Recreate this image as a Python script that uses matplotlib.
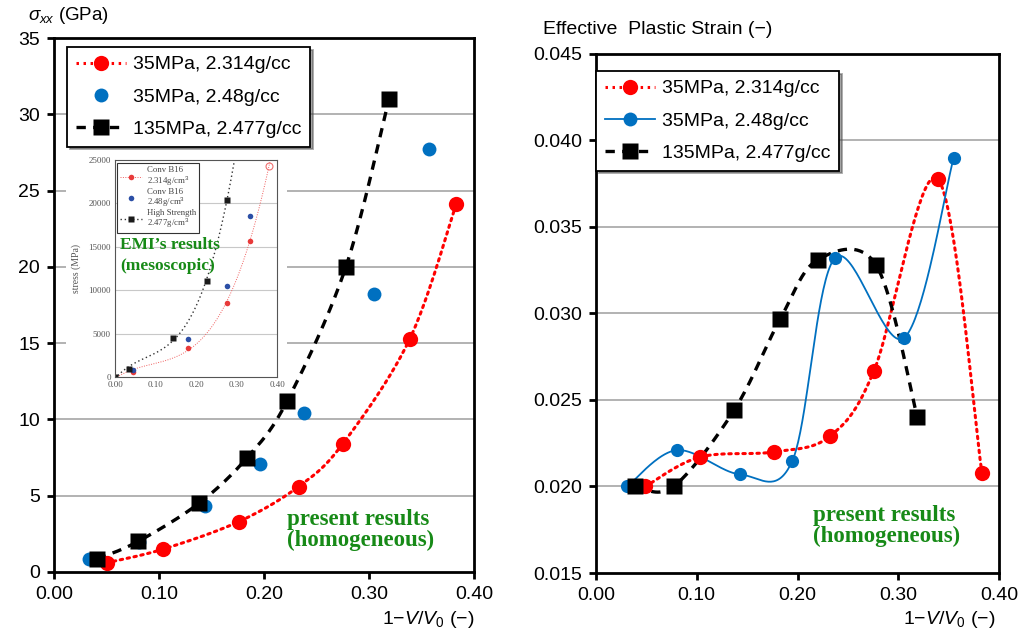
import numpy as np
import matplotlib.pyplot as plt
from matplotlib.lines import Line2D
from matplotlib.patches import Rectangle

plt.rcParams['font.family'] = ['Liberation Sans', 'DejaVu Sans']
plt.rcParams['mathtext.fontset'] = 'custom'
plt.rcParams['mathtext.rm'] = 'Liberation Sans'
plt.rcParams['mathtext.it'] = 'Liberation Sans:italic'

# stress vs volumetric strain (GPa)
x_a = [0.050, 0.104, 0.176, 0.233, 0.275, 0.339, 0.383]
s_a = [0.6, 1.5, 3.3, 5.6, 8.4, 15.3, 24.1]
x_b = [0.033, 0.081, 0.144, 0.196, 0.238, 0.305, 0.357]
s_b = [0.85, 1.96, 4.3, 7.1, 10.4, 18.2, 27.7]
x_c = [0.041, 0.080, 0.138, 0.184, 0.222, 0.278, 0.319]
s_c = [0.85, 2.0, 4.5, 7.5, 11.2, 20.0, 31.0]

# effective plastic strain
ex_a = [0.049, 0.103, 0.177, 0.232, 0.276, 0.339, 0.383]
ep_a = [0.0200, 0.0217, 0.0220, 0.0229, 0.0267, 0.0378, 0.0208]
ex_b = [0.031, 0.080, 0.143, 0.195, 0.237, 0.306, 0.355]
ep_b = [0.0200, 0.0221, 0.0207, 0.0215, 0.0332, 0.0286, 0.0390]
ex_c = [0.039, 0.077, 0.137, 0.183, 0.220, 0.278, 0.319]
ep_c = [0.0200, 0.0200, 0.0244, 0.0297, 0.0331, 0.0328, 0.0240]

# EMI mesoscopic results (MPa)
mx_a = [0.0, 0.044, 0.180, 0.276, 0.333]
ms_a = [0, 570, 3340, 8520, 15650]
mx_a_open = [0.380]
ms_a_open = [24300]
mx_b = [0.044, 0.180, 0.276, 0.333]
ms_b = [800, 4380, 10500, 18550]
mx_c = [0.0, 0.035, 0.143, 0.227, 0.276]
ms_c = [0, 900, 4500, 11050, 20400]

labels = ['35MPa, 2.314g/cc', '35MPa, 2.48g/cc', '135MPa, 2.477g/cc']
emi_labels = ['Conv B16\n2.314g/cm$^3$', 'Conv B16\n2.48g/cm$^3$',
              'High Strength\n2.477g/cm$^3$']

RED = '#ff0000'
BLUE = '#0070c0'
GREEN = '#178a17'
GRID = '#a6a6a6'
FW, FH = 1025, 632


def smooth(ax, xs, ys, n=40):
    # Bezier smoothing done in screen space so the curve shape follows the plot
    pos = ax.get_position()
    w, h = pos.width * FW, pos.height * FH
    x0, x1 = ax.get_xlim()
    y0, y1 = ax.get_ylim()
    p = np.column_stack([(np.asarray(xs) - x0) / (x1 - x0) * w,
                         (np.asarray(ys) - y0) / (y1 - y0) * h])
    p = np.vstack([p[0], p, p[-1]])
    t = np.linspace(0, 1, n)[:, None]
    out = []
    for i in range(1, len(p) - 2):
        a, d = p[i], p[i + 1]
        b = a + (p[i + 1] - p[i - 1]) / 6
        c = d - (p[i + 2] - p[i]) / 6
        seg = (1 - t) ** 3 * a + 3 * (1 - t) ** 2 * t * b + 3 * (1 - t) * t ** 2 * c + t ** 3 * d
        out.append(seg)
    out = np.vstack(out)
    return out[:, 0] / w * (x1 - x0) + x0, out[:, 1] / h * (y1 - y0) + y0


def style_axes(ax, ylim, yticks, yfmt):
    ax.set_xlim(0, 0.4)
    ax.set_ylim(*ylim)
    ax.set_xticks(np.arange(0, 0.41, 0.1))
    ax.set_xticklabels(['%.2f' % v for v in np.arange(0, 0.41, 0.1)])
    ax.set_yticks(yticks)
    ax.set_yticklabels([yfmt % v for v in yticks])
    for sp in ax.spines.values():
        sp.set_linewidth(2.0)
    ax.tick_params(direction='out', length=5, width=2, labelsize=14, pad=5)


dotted = (0, (0.8, 1.5))
dashed = (0, (2.8, 2.2))
leg_kw = dict(borderaxespad=0, fontsize=14, handlelength=2.6, handletextpad=0.35,
              labelspacing=0.75, fancybox=False, shadow=True, framealpha=1,
              edgecolor='black', borderpad=0.45)

fig = plt.figure(figsize=(FW / 100, FH / 100), dpi=100)

# ---------- left: stress ----------
pos_l = [54 / FW, 1 - 572 / FH, 420 / FW, 534 / FH]
yt_l = np.arange(0, 36, 5)

bg = fig.add_axes(pos_l, zorder=0)
bg.set_xlim(0, 0.4)
bg.set_ylim(0, 35)
for v in yt_l[1:-1]:
    bg.axhline(v, color=GRID, lw=1.2)
bg.axis('off')

axl = fig.add_axes(pos_l, zorder=2)
axl.patch.set_alpha(0)
style_axes(axl, (0, 35), yt_l, '%d')

sx, sy = smooth(axl, x_a, s_a)
axl.plot(sx, sy, color=RED, lw=2.2, ls=dotted, dash_capstyle='round')
sx, sy = smooth(axl, x_c, s_c)
axl.plot(sx, sy, color='black', lw=2.4, ls=dashed)
axl.plot(x_a, s_a, 'o', color=RED, ms=11, mec='none', zorder=4)
axl.plot(x_b, s_b, 'o', color=BLUE, ms=10, mec='none', zorder=4)
axl.plot(x_c, s_c, 's', color='black', ms=11, mec='none', zorder=4)

hl = [Line2D([], [], color=RED, lw=2.2, ls=dotted, marker='o', ms=11, mec='none'),
      Line2D([], [], color=BLUE, lw=0, marker='o', ms=10, mec='none'),
      Line2D([], [], color='black', lw=2.4, ls=dashed, marker='s', ms=11, mec='none')]
leg = axl.legend(hl, labels, loc='upper left', bbox_to_anchor=(0.031, 0.983), **leg_kw)
leg.get_frame().set_linewidth(1.3)

axl.text(0.555, 0.079, 'present results\n(homogeneous)', transform=axl.transAxes,
         family='Liberation Serif', weight='bold', fontsize=16.5, color=GREEN,
         ha='left', va='center', linespacing=1.0)

# inset with the mesoscopic results
fig.add_artist(Rectangle((66 / FW, 1 - 400 / FH), 221 / FW, 247 / FH,
                         transform=fig.transFigure, facecolor='white',
                         edgecolor='none', zorder=1))
ins = fig.add_axes([115 / FW, 1 - 377 / FH, 162 / FW, 217 / FH], zorder=1.5)
ins.set_xlim(0, 0.4)
ins.set_ylim(0, 25000)
ins.set_xticks(np.arange(0, 0.41, 0.1))
ins.set_xticklabels(['%.2f' % v for v in np.arange(0, 0.41, 0.1)])
ins.set_yticks(np.arange(0, 25001, 5000))
for v in range(5000, 25000, 5000):
    ins.axhline(v, color='#c8c8c8', lw=0.8, zorder=0)
for sp in ins.spines.values():
    sp.set_linewidth(0.8)
    sp.set_color('#555555')
ins.tick_params(length=0, labelsize=6.5, labelcolor='#555555', pad=3)
for lab in ins.get_xticklabels() + ins.get_yticklabels():
    lab.set_family('Liberation Serif')
ins.set_ylabel('stress (MPa)', family='Liberation Serif', fontsize=7,
               color='#555555', labelpad=5)

# trend lines through the EMI points
fx = np.linspace(0, 0.4, 200)
ca = np.polyfit(mx_a + mx_a_open, ms_a + ms_a_open, 3)
cc = np.polyfit(mx_c, ms_c, 3)
ins.plot(fx, np.polyval(ca, fx), color='#f06060', lw=0.7, ls=(0, (1, 1.5)))
ins.plot(fx, np.polyval(cc, fx), color='#333333', lw=1.0, ls=(0, (1, 2)))
ins.plot(mx_a, ms_a, 'o', color='#e83a3a', ms=4, mec='none')
ins.plot(mx_a_open, ms_a_open, 'o', mfc='none', mec='#f07070', ms=5, mew=0.8)
ins.plot(mx_b, ms_b, 'o', color='#2c4fa6', ms=4, mec='none')
ins.plot(mx_c, ms_c, 's', color='#1a1a1a', ms=4, mec='none')

hi = [Line2D([], [], color='#f06060', lw=0.7, ls=(0, (1, 1.5)), marker='o', ms=4, mec='none', mfc='#e83a3a'),
      Line2D([], [], color='#2c4fa6', lw=0, marker='o', ms=4, mec='none'),
      Line2D([], [], color='#333333', lw=1.0, ls=(0, (1, 2)), marker='s', ms=4, mec='none', mfc='#1a1a1a')]
li = ins.legend(hi, emi_labels, loc='upper left', bbox_to_anchor=(0.01, 0.985),
                borderaxespad=0, prop={'family': 'Liberation Serif', 'size': 6.3},
                fancybox=False, framealpha=1, edgecolor='#333333',
                handlelength=2.6, handletextpad=0.5, labelspacing=0.0, borderpad=0.35)
li.get_frame().set_linewidth(0.8)
for t in li.get_texts():
    t.set_color('#444444')
    t.set_linespacing(0.95)

ins.text(0.03, 0.56, 'EMI\u2019s results\n(mesoscopic)', transform=ins.transAxes,
         family='Liberation Serif', weight='bold', fontsize=12.5, color=GREEN,
         ha='left', va='center', linespacing=1.4)

fig.text(28 / FW, 1 - 16 / FH, r'$\sigma_{xx}$ (GPa)', fontsize=13.5, va='center')
fig.text(474 / FW, 1 - 619 / FH, '1\u2212' + r'$V/V_0$' + ' (\u2212)', fontsize=14,
         ha='right', va='center')

# ---------- right: effective plastic strain ----------
pos_r = [596 / FW, 1 - 573 / FH, 403 / FW, 519 / FH]
yt_r = np.round(np.arange(0.015, 0.0451, 0.005), 3)
axr = fig.add_axes(pos_r)
style_axes(axr, (0.015, 0.045), yt_r, '%.3f')
axr.set_axisbelow(True)
for v in yt_r[1:-1]:
    axr.axhline(v, color=GRID, lw=1.2, zorder=0)

sx, sy = smooth(axr, ex_a, ep_a)
axr.plot(sx, sy, color=RED, lw=2.2, ls=dotted, dash_capstyle='round')
sx, sy = smooth(axr, ex_b, ep_b)
axr.plot(sx, sy, color=BLUE, lw=1.3)
sx, sy = smooth(axr, ex_c, ep_c)
axr.plot(sx, sy, color='black', lw=2.4, ls=dashed)
axr.plot(ex_a, ep_a, 'o', color=RED, ms=11, mec='none', zorder=4)
axr.plot(ex_b, ep_b, 'o', color=BLUE, ms=9.5, mec='none', zorder=4)
axr.plot(ex_c, ep_c, 's', color='black', ms=11, mec='none', zorder=4)

hr = [Line2D([], [], color=RED, lw=2.2, ls=dotted, marker='o', ms=11, mec='none'),
      Line2D([], [], color=BLUE, lw=1.3, marker='o', ms=10, mec='none'),
      Line2D([], [], color='black', lw=2.4, ls=dashed, marker='s', ms=11, mec='none')]
leg = axr.legend(hr, labels, loc='upper left', bbox_to_anchor=(0.0, 0.967), **leg_kw)
leg.get_frame().set_linewidth(1.3)

axr.text(0.538, 0.09, 'present results\n(homogeneous)', transform=axr.transAxes,
         family='Liberation Serif', weight='bold', fontsize=16.5, color=GREEN,
         ha='left', va='center', linespacing=1.0)

fig.text(543 / FW, 1 - 30 / FH, 'Effective  Plastic Strain (\u2212)', fontsize=14, va='center')
fig.text(995 / FW, 1 - 620 / FH, '1\u2212' + r'$V/V_0$' + ' (\u2212)', fontsize=14,
         ha='right', va='center')

fig.savefig('out.png', dpi=100)
